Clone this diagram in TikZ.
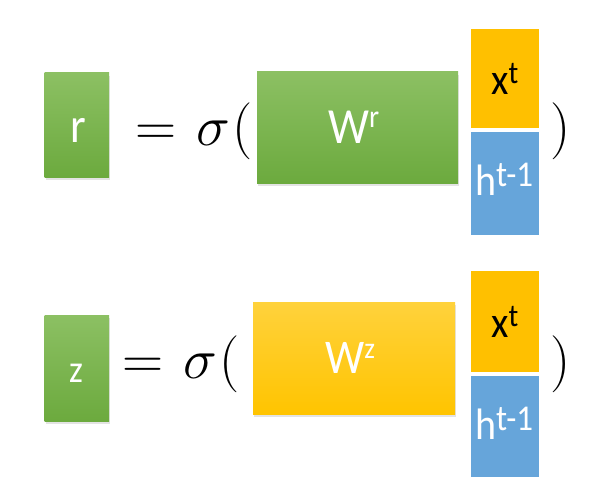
\documentclass[tikz,border=0pt]{standalone}
\usepackage{fix-cm}
\usepackage{fontspec}
\newfontfamily\calfont{Carlito}
\usetikzlibrary{shadows}
\definecolor{gtop}{HTML}{8CC063}
\definecolor{gbot}{HTML}{6CAA3E}
\definecolor{ytop}{HTML}{FFD23C}
\definecolor{ybot}{HTML}{FFC400}
\definecolor{yel}{HTML}{FFC000}
\definecolor{blu}{HTML}{66A5DA}
\tikzset{
  gbox/.style={top color=gtop, bottom color=gbot, draw=none, inner sep=0pt,
     drop shadow={shadow xshift=1pt, shadow yshift=-3pt, opacity=0.22}},
  ybox/.style={top color=ytop, bottom color=ybot, draw=none, inner sep=0pt,
     drop shadow={shadow xshift=1pt, shadow yshift=-3pt, opacity=0.22}},
  xbox/.style={fill=yel, draw=none, inner sep=0pt},
  hbox/.style={fill=blu, draw=none, inner sep=0pt},
  lbl/.style={inner sep=0pt, anchor=base west, text=white},
  mth/.style={font=\fontsize{57}{57}\selectfont, inner sep=0pt, anchor=base},
}
% #1 size of base, #2 base text, #3 sup size, #4 raise, #5 sup text
\newcommand\lab[5]{\scalebox{1}[1.1]{\calfont\fontsize{#1}{#1}\selectfont #2\raisebox{#4}{\fontsize{#3}{#3}\selectfont #5}}}
\begin{document}
\begin{tikzpicture}[x=1pt,y=-1pt]
\useasboundingbox (0,0) rectangle (592,495);
% top row
\node[gbox, minimum width=64.3pt, minimum height=104pt] (r) at (76.85,125) {};
\node[lbl] (rl) at (70,142) {\lab{45}{r}{10}{0pt}{}};
\node[mth] (eq1) at (156,145) {$=$};
\node[mth] (s1) at (213.5,145) {$\sigma$};
\node[mth] (o1) at (243,145) {$($};
\node[gbox, minimum width=201pt, minimum height=111pt] (wr) at (357.5,127.5) {};
\node[lbl] (wrl) at (328,143) {\lab{46}{W}{29}{14pt}{r}};
\node[xbox, minimum width=68pt, minimum height=99pt] (x1) at (505,78.5) {};
\node[lbl, text=black] (x1l) at (491,95) {\lab{40}{x}{29}{10pt}{t}};
\node[hbox, minimum width=68pt, minimum height=103pt] (h1) at (505,183.5) {};
\node[lbl] (h1l) at (475,195) {\lab{40}{h}{33}{8pt}{t-1}};
\node[mth] (c1) at (560.5,145) {$)$};
% bottom row
\node[gbox, minimum width=64.3pt, minimum height=106pt] (z) at (76.85,368) {};
\node[lbl] (zl) at (69,382) {\lab{35}{z}{10}{0pt}{}};
\node[mth] (eq2) at (143,378) {$=$};
\node[mth] (s2) at (200,378) {$\sigma$};
\node[mth] (o2) at (230,378) {$($};
\node[ybox, minimum width=202pt, minimum height=112pt] (wz) at (354,358) {};
\node[lbl] (wzl) at (325,373) {\lab{44}{W}{27}{13pt}{z}};
\node[xbox, minimum width=68pt, minimum height=101pt] (x2) at (505,321.5) {};
\node[lbl, text=black] (x2l) at (491,337) {\lab{40}{x}{29}{10pt}{t}};
\node[hbox, minimum width=68pt, minimum height=101pt] (h2) at (505,426.5) {};
\node[lbl] (h2l) at (475,439) {\lab{40}{h}{33}{8pt}{t-1}};
\node[mth] (c2) at (560.5,378) {$)$};
\end{tikzpicture}
\end{document}
